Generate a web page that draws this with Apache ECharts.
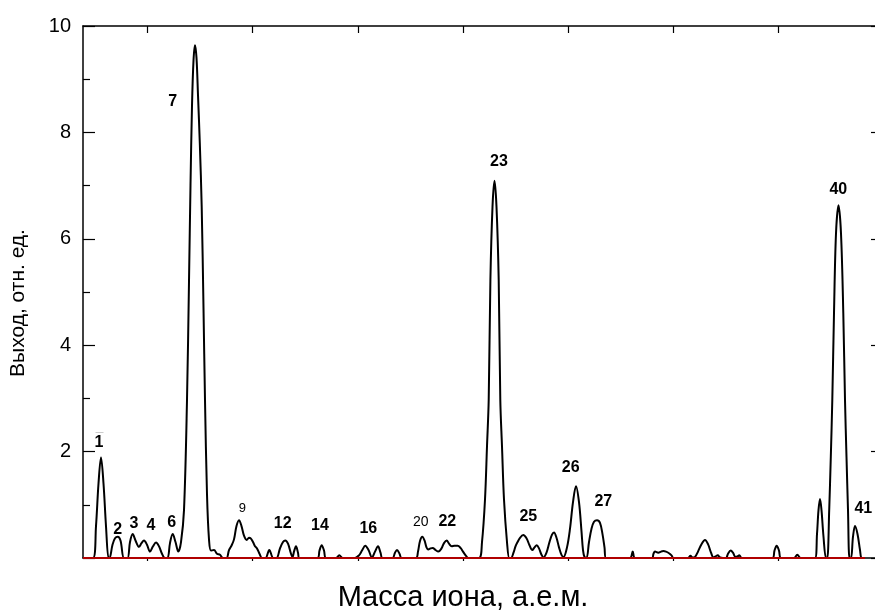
<!DOCTYPE html>
<html>
<head>
<meta charset="utf-8">
<script src="https://cdn.jsdelivr.net/npm/echarts@6/dist/echarts.min.js"></script>
<style>html,body{margin:0;padding:0;background:#fff;overflow:hidden}#c{width:875px;height:611px}</style>
</head>
<body>
<div id="c"></div>
<script>
// x: position along the mass scale (arbitrary channel units), y: yield (rel. units)
const curvePoints = [
 [0,0],[10,0],[13,0.6],[15.5,1.4],[18,1.89],[20.5,1.4],[23,0.6],[25.5,0],
 [26.5,0],[29.5,0.25],[32,0.37],[34.7,0.40],[37.5,0.33],[41,0],
 [44.5,0],[47,0.3],[49.7,0.45],[52.5,0.33],[56,0.21],[58.5,0.28],[61,0.33],[64,0.25],[67,0.12],[70,0.22],[73,0.29],[76,0.22],[79,0.08],[82,0],
 [84.5,0],[87,0.28],[89.7,0.45],[92.5,0.3],[95.3,0.12],[98,0.3],[101,0.9],[104,2.97],[106,5.2],[107.5,7.0],[109,8.5],[110.5,9.35],[112,9.64],[113.5,9.4],[115,8.7],[116.8,7.8],[118.7,6.6],[120.5,4.7],[122,2.97],[124,1.2],[126,0.35],[128,0.14],[131,0.15],[134,0.08],[137,0.06],[140,0],
 [143.5,0],[146,0.15],[148.7,0.24],[151,0.35],[153.5,0.6],[156,0.71],[158.5,0.6],[161,0.42],[163.7,0.34],[166,0.38],[167.7,0.37],[170,0.3],[172,0.22],[174,0.18],[176.5,0.08],[179,0],
 [182.5,0],[186.3,0.15],[190.3,0],
 [193.5,0],[197,0.18],[200,0.3],[202.3,0.33],[205,0.27],[208,0.08],[209.5,0.02],[211,0.12],[213,0.22],[215,0.1],[216.5,0],
 [234.5,0],[236.5,0.14],[238.7,0.24],[241,0.14],[243,0],
 [253,0],[256.3,0.05],[259.7,0],
 [272,0],[276,0.05],[279,0.14],[282.3,0.23],[285.5,0.15],[289,0.01],[292,0.12],[295,0.22],[297.5,0.1],[299.5,0],
 [309.5,0],[312,0.1],[314,0.15],[316.5,0.08],[318.7,0],
 [333,0],[335,0.12],[337,0.32],[339.3,0.40],[341.5,0.33],[343.5,0.2],[345.3,0.16],[347.5,0.18],[349.7,0.19],[352.5,0.15],[355.3,0.12],[358.5,0.18],[361,0.28],[363.7,0.33],[366,0.27],[368.7,0.22],[371.5,0.23],[374.7,0.23],[377.5,0.19],[380,0.12],[383,0.04],[385.3,0],
 [396,0],[399,0.3],[402,1.1],[404,2.1],[405.7,2.97],[407.4,5.23],[409.5,6.6],[411.5,7.09],[413.5,6.6],[415.7,5.23],[417.3,2.97],[419,2.1],[421,1.1],[424,0.3],[426.3,0],
 [428,0],[430.5,0.1],[432.5,0.22],[434.3,0.29],[437,0.38],[440.3,0.43],[443.5,0.37],[446.5,0.24],[449.3,0.15],[451.5,0.2],[453.7,0.24],[456,0.18],[458.5,0.06],[460.5,0.01],[463.5,0.1],[466.5,0.3],[469,0.44],[471,0.48],[473.5,0.38],[476,0.2],[478.5,0.06],[480.5,0.02],[484,0.2],[487,0.55],[490,1.05],[493,1.35],[496,1.05],[498.5,0.5],[500,0.15],[501.5,0.02],
 [503.5,0],[506,0.3],[508.5,0.55],[511,0.68],[514,0.71],[517,0.66],[519.5,0.45],[521.5,0.2],[523,0],
 [547,0],[549.7,0.12],[552,0],
 [569,0],[570.5,0.08],[572,0.12],[575.3,0.1],[578,0.12],[580.3,0.13],[583,0.12],[586,0.09],[588.5,0.05],[590.5,0],
 [605,0],[607.5,0.04],[609.5,0.01],[612,0.02],[615,0.12],[618.5,0.26],[622,0.34],[625,0.26],[628,0.1],[630.5,0.01],[632.5,0.03],[634.7,0.05],[637,0.01],[640,0],
 [643,0],[645,0.08],[647.7,0.14],[650,0.1],[652.5,0.02],[654.5,0.03],[656.3,0.05],[658.7,0],
 [689.5,0],[691.5,0.14],[693.7,0.23],[696,0.14],[698,0],
 [711,0],[714.3,0.06],[717.7,0],
 [732,0],[734,0.45],[735.5,0.9],[737,1.11],[738.5,0.9],[740.5,0.4],[743,0],
 [744.3,0],[746.2,0.9],[747.8,1.9],[749.3,2.97],[751,4.6],[753,6.1],[755.5,6.63],[758,6.1],[760.3,4.6],[762,2.97],[763.5,1.9],[765,0.9],[766.5,0],
 [768,0],[770,0.4],[772,0.60],[774.5,0.45],[777,0.15],[778.7,0],[782,0]
];
const baseline = [[0,0],[782,0]];
const peakNames = ['1','2','3','4','6','7','9','12','14','16','20','22','23','25','26','27','40','41'];
const peakLabelX = [16,34.7,51,68,88.7,89.7,159.3,199.7,237,285.3,337.7,364.3,416,445.3,487.7,520.3,755.3,780.3];
const peakLabelY = [2.16,0.54,0.64,0.60,0.67,8.57,0.93,0.64,0.60,0.56,0.68,0.68,7.45,0.78,1.70,1.06,6.92,0.93];
const plainLabels = ['9','20'];
const xTicks = [64.5,169.7,274.9,380.1,485.3,590.5,695.7];

const FONT = 'Liberation Sans, Arial, sans-serif';
const chart = echarts.init(document.getElementById('c'), null, {renderer:'canvas'});
const labelData = peakNames.map((n,i)=>({value:[peakLabelX[i],peakLabelY[i]], name:n,
  label:{color:'#000', fontWeight: plainLabels.includes(n)?'normal':'bold', fontSize: n==='9'?13:(n==='20'?14:16)}}));
labelData.push({value:[16.5,2.38], name:'—', label:{fontWeight:'normal', fontSize:8, color:'#999'}});

chart.setOption({
  animation:false,
  backgroundColor:'#fff',
  grid:{left:83, right:-2, top:26, bottom:53, containLabel:false, outerBoundsMode:'none'},
  xAxis:[{
    type:'value', position:'bottom', min:0, max:794,
    axisLine:{show:true, onZero:false, lineStyle:{color:'#000', width:1.5}},
    axisTick:{show:true, inside:false, length:3, customValues:xTicks, lineStyle:{color:'#000', width:1.2}},
    axisLabel:{show:false}, splitLine:{show:false},
    name:'Масса иона, а.е.м.', nameLocation:'middle', nameGap:25,
    nameTextStyle:{fontFamily:FONT, fontSize:29, color:'#000', padding:[0,34,0,0]}
  },{
    type:'value', position:'top', min:0, max:794,
    axisLine:{show:true, onZero:false, lineStyle:{color:'#000', width:1.5}},
    axisTick:{show:true, inside:true, length:7, customValues:xTicks, lineStyle:{color:'#000', width:1.2}},
    axisLabel:{show:false}, splitLine:{show:false}
  }],
  yAxis:[{
    type:'value', position:'left', min:0, max:10, interval:2,
    axisLine:{show:true, onZero:false, lineStyle:{color:'#000', width:1.5}},
    axisTick:{show:true, inside:true, length:12, lineStyle:{color:'#000', width:1.2}},
    minorTick:{show:true, splitNumber:2, length:7, lineStyle:{color:'#000', width:1.2}},
    axisLabel:{show:true, margin:12, fontFamily:FONT, fontSize:20, color:'#000',
      formatter:v=> v===0 ? '' : String(v)},
    splitLine:{show:false},
    name:'Выход, отн. ед.', nameLocation:'middle', nameGap:54,
    nameTextStyle:{fontFamily:FONT, fontSize:21, color:'#000', padding:[0,22,0,0]}
  },{
    type:'value', position:'right', min:0, max:10, interval:2,
    axisLine:{show:true, onZero:false, lineStyle:{color:'#000', width:1.5}},
    axisTick:{show:true, inside:true, length:6, lineStyle:{color:'#000', width:1.2}},
    axisLabel:{show:false}, splitLine:{show:false}
  }],
  series:[{
    type:'line', data:curvePoints, xAxisIndex:0, yAxisIndex:0,
    smooth:0.35, showSymbol:false, symbol:'none',
    lineStyle:{color:'#000', width:2}, z:3
  },{
    type:'line', data:baseline, xAxisIndex:0, yAxisIndex:0,
    showSymbol:false, symbol:'none', lineStyle:{color:'#b00000', width:2}, z:4
  },{
    type:'scatter', data:labelData, xAxisIndex:0, yAxisIndex:0,
    symbolSize:1, itemStyle:{color:'#fff', opacity:1}, z:5, silent:true,
    label:{show:true, position:'inside', formatter:p=>p.name, color:'#000', fontFamily:FONT,
      textBorderWidth:0, textShadowBlur:0, opacity:1}
  }]
});
</script>
</body>
</html>
